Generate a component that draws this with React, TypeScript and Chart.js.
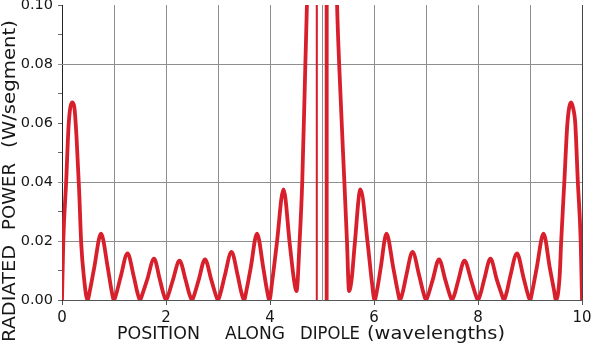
import React, { useEffect, useRef } from 'react';
import { Chart, registerables } from 'chart.js';

Chart.register(...registerables);

// ---- data ----
const leftPositions = [
  0, 0.025, 0.08, 0.13, 0.2, 0.24, 0.28, 0.33, 0.37, 0.42, 0.49,
  0.54, 0.62, 0.75, 0.88, 0.95, 1.0,
  1.05, 1.13, 1.26, 1.38, 1.45, 1.5,
  1.55, 1.64, 1.77, 1.88, 1.95, 2.0,
  2.05, 2.13, 2.26, 2.38, 2.45, 2.5,
  2.55, 2.63, 2.75, 2.87, 2.95, 3.0,
  3.05, 3.13, 3.26, 3.38, 3.45, 3.5,
  3.55, 3.63, 3.75, 3.87, 3.94, 3.99,
  4.04, 4.13, 4.26, 4.38, 4.46, 4.51,
];
const leftPower = [
  0, 0.02, 0.04, 0.06, 0.067, 0.065, 0.055, 0.037, 0.019, 0.008, 0,
  0.0035, 0.011, 0.0225, 0.011, 0.0035, 0,
  0.0025, 0.008, 0.0158, 0.008, 0.0025, 0,
  0.0022, 0.007, 0.014, 0.007, 0.0022, 0,
  0.002, 0.0066, 0.0133, 0.0066, 0.002, 0,
  0.0021, 0.0069, 0.0138, 0.0069, 0.0021, 0,
  0.0025, 0.0082, 0.0163, 0.0082, 0.0025, 0,
  0.0035, 0.011, 0.0225, 0.011, 0.0035, 0,
  0.006, 0.019, 0.0375, 0.019, 0.007, 0.003,
];
const centerPositions = [
  4.57, 4.62, 4.68, 4.71, 4.78, 4.898, 4.9, 4.902, 5.0, 5.088, 5.09, 5.092, 5.22, 5.29, 5.33, 5.43, 5.48,
];
const centerPower = [
  0.02, 0.04, 0.08, 0.1, 0.16, 0.25, 0, 0.25, 0.3, 0.25, 0, 0.25, 0.16, 0.1, 0.08, 0.04, 0.02,
];
const rightPositions = [
  5.52, 5.57, 5.63, 5.74, 5.88, 5.96, 6.01,
  6.06, 6.13, 6.24, 6.37, 6.45, 6.5,
  6.55, 6.62, 6.74, 6.87, 6.95, 7.0,
  7.05, 7.13, 7.25, 7.37, 7.45, 7.5,
  7.55, 7.62, 7.74, 7.87, 7.95, 8.0,
  8.05, 8.12, 8.24, 8.36, 8.45, 8.5,
  8.55, 8.62, 8.75, 8.87, 8.95, 9.0,
  9.05, 9.13, 9.26, 9.38, 9.46, 9.5,
  9.57, 9.6, 9.66, 9.72, 9.79, 9.83, 9.87, 9.92, 9.975, 10,
];
const rightPower = [
  0.003, 0.007, 0.019, 0.0375, 0.019, 0.006, 0,
  0.0035, 0.011, 0.0225, 0.011, 0.0035, 0,
  0.0025, 0.0082, 0.0163, 0.0082, 0.0025, 0,
  0.0021, 0.0069, 0.0138, 0.0069, 0.0021, 0,
  0.002, 0.0066, 0.0133, 0.0066, 0.002, 0,
  0.0022, 0.007, 0.014, 0.007, 0.0022, 0,
  0.0025, 0.008, 0.0158, 0.008, 0.0025, 0,
  0.0035, 0.011, 0.0225, 0.011, 0.0035, 0,
  0.008, 0.02, 0.04, 0.06, 0.067, 0.065, 0.06, 0.04, 0.02, 0,
];

const xLabelValues = [0, 2, 4, 6, 8, 10];
const yLabelValues = [0, 0.02, 0.04, 0.06, 0.08, 0.1];
const yGridValues = [0.02, 0.04, 0.08];
const xTitleWords = ['POSITION', 'ALONG', 'DIPOLE', '(wavelengths)'];
const yTitleWords = ['RADIATED', 'POWER', '(W/segment)'];

const RED = '#d8202c';
const GRID = '#8e8e8e';
const TEXT = '#161616';
const FONT = '"DejaVu Sans", "Liberation Sans", sans-serif';

// placement of the title words (layout, not data)
const X_TITLE_SPANS: [number, number][] = [[117, 200], [225, 285], [300, 360], [367, 505]];
const Y_TITLE_SPANS: [number, number][] = [[342, 245], [230, 163], [148, 20]];

const near = (a: number, b: number) => Math.abs(a - b) < 1e-6;

const hGridPlugin = {
  id: 'hGrid',
  beforeDatasetsDraw(chart: any) {
    const ctx = chart.ctx as CanvasRenderingContext2D;
    const { left, right } = chart.chartArea;
    const y = chart.scales.y;
    ctx.save();
    ctx.strokeStyle = GRID;
    ctx.lineWidth = 1;
    yGridValues.forEach((v) => {
      const py = Math.round(y.getPixelForValue(v)) + 0.5;
      ctx.beginPath();
      ctx.moveTo(left - 4, py);
      ctx.lineTo(right, py);
      ctx.stroke();
    });
    ctx.restore();
  },
};

const titlePlugin = {
  id: 'axisTitles',
  afterDraw(chart: any) {
    const ctx = chart.ctx as CanvasRenderingContext2D;
    ctx.save();
    ctx.fillStyle = TEXT;
    ctx.font = `17px ${FONT}`;
    ctx.textAlign = 'left';
    ctx.textBaseline = 'alphabetic';
    xTitleWords.forEach((w, i) => {
      const [a, b] = X_TITLE_SPANS[i];
      const m = ctx.measureText(w).width;
      ctx.save();
      ctx.translate(a, 339);
      ctx.scale((b - a) / m, 1);
      ctx.fillText(w, 0, 0);
      ctx.restore();
    });
    yTitleWords.forEach((w, i) => {
      const [b, t] = Y_TITLE_SPANS[i];
      const m = ctx.measureText(w).width;
      ctx.save();
      ctx.translate(15, b);
      ctx.rotate(-Math.PI / 2);
      ctx.scale((b - t) / m, 1);
      ctx.fillText(w, 0, 0);
      ctx.restore();
    });
    ctx.restore();
  },
};

export default function App() {
  const ref = useRef<HTMLCanvasElement | null>(null);

  useEffect(() => {
    const canvas = ref.current;
    if (!canvas) return;
    const xs = [...leftPositions, ...centerPositions, ...rightPositions];
    const ys = [...leftPower, ...centerPower, ...rightPower];
    const points = xs.map((x, i) => ({ x, y: ys[i] }));

    const chart = new Chart(canvas, {
      type: 'line',
      data: {
        datasets: [
          {
            data: points,
            borderColor: RED,
            borderWidth: 3.8,
            pointRadius: 0,
            fill: false,
            cubicInterpolationMode: 'monotone',
            borderJoinStyle: 'round',
            borderCapStyle: 'round',
            segment: {
              borderWidth: (c: any) =>
                c.p0.parsed.x > 4.85 && c.p1.parsed.x < 4.95 ? 2 : 3.8,
            },
          } as any,
        ],
      },
      options: {
        animation: false,
        responsive: true,
        maintainAspectRatio: false,
        layout: { padding: { top: 5, right: 11, left: 0, bottom: 0 } },
        plugins: {
          legend: { display: false },
          tooltip: { enabled: false },
          title: { display: false },
        },
        scales: {
          x: {
            type: 'linear',
            min: 0,
            max: 10,
            afterFit: (s: any) => {
              s.height = 45;
              s.paddingLeft = 0;
              s.paddingRight = 0;
            },
            ticks: {
              stepSize: 1,
              autoSkip: false,
              maxRotation: 0,
              padding: 4,
              color: TEXT,
              font: { family: FONT, size: 15 },
              callback: (v: any) =>
                xLabelValues.some((l) => near(l, Number(v))) ? String(v) : '',
            },
            grid: {
              color: (c: any) => (c.tick && near(c.tick.value, 10) ? '#444' : GRID),
              tickLength: 5,
              tickColor: (c: any) =>
                c.tick && xLabelValues.some((l) => near(l, c.tick.value)) ? '#555' : 'rgba(0,0,0,0)',
            },
            border: { display: true, color: '#555', width: 1 },
          },
          y: {
            type: 'linear',
            min: 0,
            max: 0.1,
            afterFit: (s: any) => {
              s.width = 62;
              s.paddingTop = 0;
              s.paddingBottom = 0;
            },
            ticks: {
              stepSize: 0.01,
              autoSkip: false,
              padding: 5,
              color: TEXT,
              font: { family: FONT, size: 14.5 },
              callback: (v: any) => {
                const n = Number(v);
                return yLabelValues.some((l) => near(l, n)) ? n.toFixed(2) : '';
              },
            },
            grid: {
              drawOnChartArea: false,
              tickLength: 4,
              tickColor: '#666',
            },
            border: { display: true, color: '#222', width: 1 },
          },
        },
      },
      plugins: [hGridPlugin, titlePlugin],
    });
    return () => chart.destroy();
  }, []);

  return (
    <div style={{ position: 'fixed', left: 0, top: 0, width: 593, height: 345, background: '#fff' }}>
      <canvas ref={ref} />
    </div>
  );
}
